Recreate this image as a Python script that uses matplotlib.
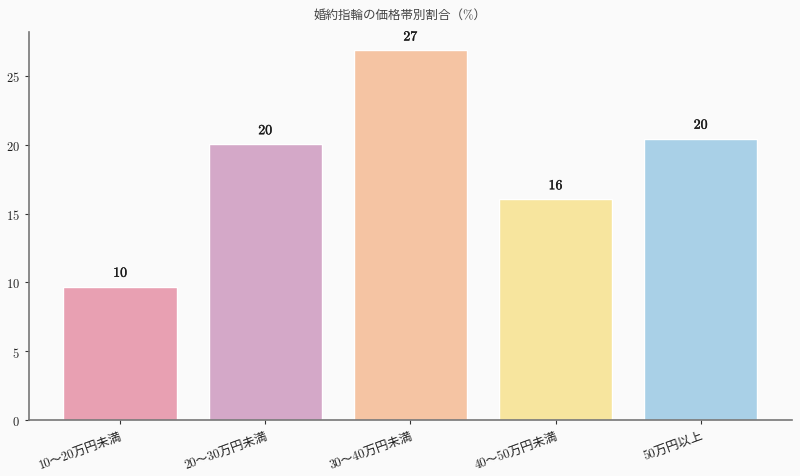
import matplotlib
matplotlib.use("Agg")
import matplotlib.pyplot as plt
import matplotlib.patheffects as pe

plt.rcParams['font.family'] = ['cmr10', 'Noto Sans CJK JP', 'DejaVu Sans']
plt.rcParams['axes.formatter.use_mathtext'] = True

categories = ["10〜20万円未満", "20〜30万円未満", "30〜40万円未満", "40〜50万円未満", "50万円以上"]
values = [9.7, 20.05, 26.85, 16.05, 20.45]
labels = ["10", "20", "27", "16", "20"]
colors = ["#E8A0B2", "#D4A8C8", "#F5C4A3", "#F7E59E", "#A9D0E7"]
title = "婚約指輪の価格帯別割合（%）"

fig = plt.figure(figsize=(8, 4.77), dpi=100, facecolor="#FAFAFA")
ax = fig.add_axes([0.036, 0.117, 0.954, 0.814])
ax.set_facecolor("#FAFAFA")

x = range(len(categories))
bars = ax.bar(x, values, width=0.78, color=colors, edgecolor="white", linewidth=1)
for b, lab in zip(bars, labels):
    ax.text(b.get_x() + b.get_width() / 2, b.get_height() + 0.5, lab,
            ha="center", va="bottom", fontsize=10, color="#1a1a1a",
            path_effects=[pe.withStroke(linewidth=0.25, foreground="#1a1a1a")])

ax.set_xticks(list(x))
ax.set_xticklabels(categories, rotation=20, ha="right", fontsize=9, color="#222222",
                   rotation_mode="anchor")
ax.tick_params(axis="y", labelsize=9, colors="#222222")
ax.tick_params(axis="both", color="#333333", length=3)
ax.set_yticks([0, 5, 10, 15, 20, 25])

for s in ["top", "right"]:
    ax.spines[s].set_visible(False)
for s in ["left", "bottom"]:
    ax.spines[s].set_color("#777777")
    ax.spines[s].set_linewidth(1.2)

fig.text(0.5, 0.968, title, ha="center", va="center", fontsize=9, color="#444444")

fig.savefig("out.png", dpi=100, facecolor=fig.get_facecolor())
